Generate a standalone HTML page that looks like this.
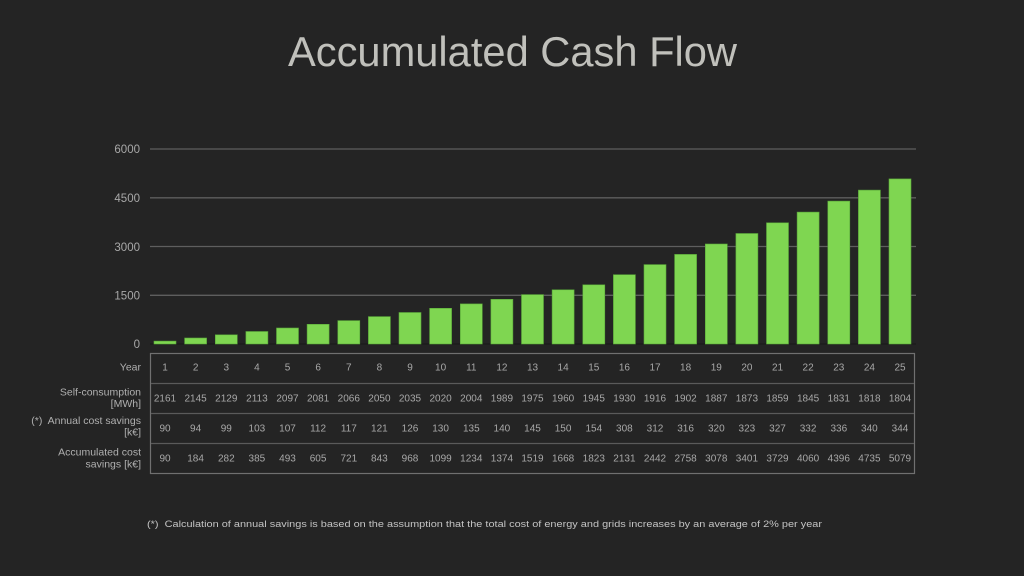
<!DOCTYPE html>
<html><head><meta charset="utf-8"><style>
html,body{margin:0;padding:0;background:#242424;}
svg{display:block}
text{font-family:"Liberation Sans",sans-serif;white-space:pre;}
</style></head><body>
<svg width="1024" height="576" viewBox="0 0 1024 576" xmlns="http://www.w3.org/2000/svg" xml:space="preserve">
<rect width="1024" height="576" fill="#242424"/>
<text x="288" y="66" font-size="42" fill="#c0c0bb" textLength="449" lengthAdjust="spacingAndGlyphs">Accumulated Cash Flow</text>
<g stroke="#5e5e5e" stroke-width="1.3">
<line x1="150" y1="149" x2="916" y2="149"/>
<line x1="150" y1="197.8" x2="916" y2="197.8"/>
<line x1="150" y1="246.5" x2="916" y2="246.5"/>
<line x1="150" y1="295.3" x2="916" y2="295.3"/>
<line x1="150" y1="344" x2="916" y2="344" stroke="#1a1a1a"/>
</g>
<g font-size="11.5" fill="#a8a8a8" text-anchor="end">
<text x="140" y="153">6000</text>
<text x="140" y="202">4500</text>
<text x="140" y="251">3000</text>
<text x="140" y="299.5">1500</text>
<text x="140" y="348">0</text>
</g>
<rect x="150.5" y="353.5" width="764" height="120" fill="none" stroke="#707070" stroke-width="1.2"/>
<g stroke="#5a5a5a" stroke-width="1.2">
<line x1="151" y1="383.5" x2="914" y2="383.5"/>
<line x1="151" y1="413.5" x2="914" y2="413.5"/>
<line x1="151" y1="443.5" x2="914" y2="443.5"/>
</g>
<g font-size="10.5" fill="#b0b0b0" text-anchor="end">
<text x="141" y="370.5">Year</text>
<text x="141" y="395.5">Self-consumption</text>
<text x="141" y="407">[MWh]</text>
<text x="141" y="424">(*)  Annual cost savings</text>
<text x="141" y="435.5">[k€]</text>
<text x="141" y="455.5">Accumulated cost</text>
<text x="141" y="467.5">savings [k€]</text>
</g>
<text x="147" y="527" font-size="9.6" fill="#c4c4c4" textLength="675" lengthAdjust="spacingAndGlyphs">(*)  Calculation of annual savings is based on the assumption that the total cost of energy and grids increases by an average of 2% per year</text>
<g fill="#7fd651" stroke="#5aa83a" stroke-width="0.6">
<rect x="154" y="341.1" width="22" height="2.9"/>
<rect x="184.6" y="338" width="22" height="6"/>
<rect x="215.3" y="334.8" width="22" height="9.2"/>
<rect x="245.9" y="331.5" width="22" height="12.5"/>
<rect x="276.5" y="328" width="22" height="16"/>
<rect x="307.1" y="324.3" width="22" height="19.7"/>
<rect x="337.8" y="320.6" width="22" height="23.4"/>
<rect x="368.4" y="316.6" width="22" height="27.4"/>
<rect x="399" y="312.5" width="22" height="31.5"/>
<rect x="429.6" y="308.3" width="22" height="35.7"/>
<rect x="460.3" y="303.9" width="22" height="40.1"/>
<rect x="490.9" y="299.3" width="22" height="44.7"/>
<rect x="521.5" y="294.6" width="22" height="49.4"/>
<rect x="552.1" y="289.8" width="22" height="54.2"/>
<rect x="582.8" y="284.8" width="22" height="59.2"/>
<rect x="613.4" y="274.7" width="22" height="69.3"/>
<rect x="644" y="264.6" width="22" height="79.4"/>
<rect x="674.6" y="254.4" width="22" height="89.6"/>
<rect x="705.3" y="244" width="22" height="100"/>
<rect x="735.9" y="233.5" width="22" height="110.5"/>
<rect x="766.5" y="222.8" width="22" height="121.2"/>
<rect x="797.1" y="212.1" width="22" height="131.9"/>
<rect x="827.8" y="201.1" width="22" height="142.9"/>
<rect x="858.4" y="190.1" width="22" height="153.9"/>
<rect x="889" y="178.9" width="22" height="165.1"/>
</g>
<g font-size="10" fill="#a8a8a8" text-anchor="middle">
<text x="165" y="370.5">1</text><text x="195.6" y="370.5">2</text><text x="226.3" y="370.5">3</text><text x="256.9" y="370.5">4</text><text x="287.5" y="370.5">5</text><text x="318.1" y="370.5">6</text><text x="348.8" y="370.5">7</text><text x="379.4" y="370.5">8</text><text x="410" y="370.5">9</text><text x="440.6" y="370.5">10</text><text x="471.3" y="370.5">11</text><text x="501.9" y="370.5">12</text><text x="532.5" y="370.5">13</text><text x="563.1" y="370.5">14</text><text x="593.8" y="370.5">15</text><text x="624.4" y="370.5">16</text><text x="655" y="370.5">17</text><text x="685.6" y="370.5">18</text><text x="716.3" y="370.5">19</text><text x="746.9" y="370.5">20</text><text x="777.5" y="370.5">21</text><text x="808.1" y="370.5">22</text><text x="838.8" y="370.5">23</text><text x="869.4" y="370.5">24</text><text x="900" y="370.5">25</text>
<text x="165" y="401.5">2161</text><text x="195.6" y="401.5">2145</text><text x="226.3" y="401.5">2129</text><text x="256.9" y="401.5">2113</text><text x="287.5" y="401.5">2097</text><text x="318.1" y="401.5">2081</text><text x="348.8" y="401.5">2066</text><text x="379.4" y="401.5">2050</text><text x="410" y="401.5">2035</text><text x="440.6" y="401.5">2020</text><text x="471.3" y="401.5">2004</text><text x="501.9" y="401.5">1989</text><text x="532.5" y="401.5">1975</text><text x="563.1" y="401.5">1960</text><text x="593.8" y="401.5">1945</text><text x="624.4" y="401.5">1930</text><text x="655" y="401.5">1916</text><text x="685.6" y="401.5">1902</text><text x="716.3" y="401.5">1887</text><text x="746.9" y="401.5">1873</text><text x="777.5" y="401.5">1859</text><text x="808.1" y="401.5">1845</text><text x="838.8" y="401.5">1831</text><text x="869.4" y="401.5">1818</text><text x="900" y="401.5">1804</text>
<text x="165" y="431.5">90</text><text x="195.6" y="431.5">94</text><text x="226.3" y="431.5">99</text><text x="256.9" y="431.5">103</text><text x="287.5" y="431.5">107</text><text x="318.1" y="431.5">112</text><text x="348.8" y="431.5">117</text><text x="379.4" y="431.5">121</text><text x="410" y="431.5">126</text><text x="440.6" y="431.5">130</text><text x="471.3" y="431.5">135</text><text x="501.9" y="431.5">140</text><text x="532.5" y="431.5">145</text><text x="563.1" y="431.5">150</text><text x="593.8" y="431.5">154</text><text x="624.4" y="431.5">308</text><text x="655" y="431.5">312</text><text x="685.6" y="431.5">316</text><text x="716.3" y="431.5">320</text><text x="746.9" y="431.5">323</text><text x="777.5" y="431.5">327</text><text x="808.1" y="431.5">332</text><text x="838.8" y="431.5">336</text><text x="869.4" y="431.5">340</text><text x="900" y="431.5">344</text>
<text x="165" y="461.5">90</text><text x="195.6" y="461.5">184</text><text x="226.3" y="461.5">282</text><text x="256.9" y="461.5">385</text><text x="287.5" y="461.5">493</text><text x="318.1" y="461.5">605</text><text x="348.8" y="461.5">721</text><text x="379.4" y="461.5">843</text><text x="410" y="461.5">968</text><text x="440.6" y="461.5">1099</text><text x="471.3" y="461.5">1234</text><text x="501.9" y="461.5">1374</text><text x="532.5" y="461.5">1519</text><text x="563.1" y="461.5">1668</text><text x="593.8" y="461.5">1823</text><text x="624.4" y="461.5">2131</text><text x="655" y="461.5">2442</text><text x="685.6" y="461.5">2758</text><text x="716.3" y="461.5">3078</text><text x="746.9" y="461.5">3401</text><text x="777.5" y="461.5">3729</text><text x="808.1" y="461.5">4060</text><text x="838.8" y="461.5">4396</text><text x="869.4" y="461.5">4735</text><text x="900" y="461.5">5079</text>
</g>
</svg>
</body></html>
